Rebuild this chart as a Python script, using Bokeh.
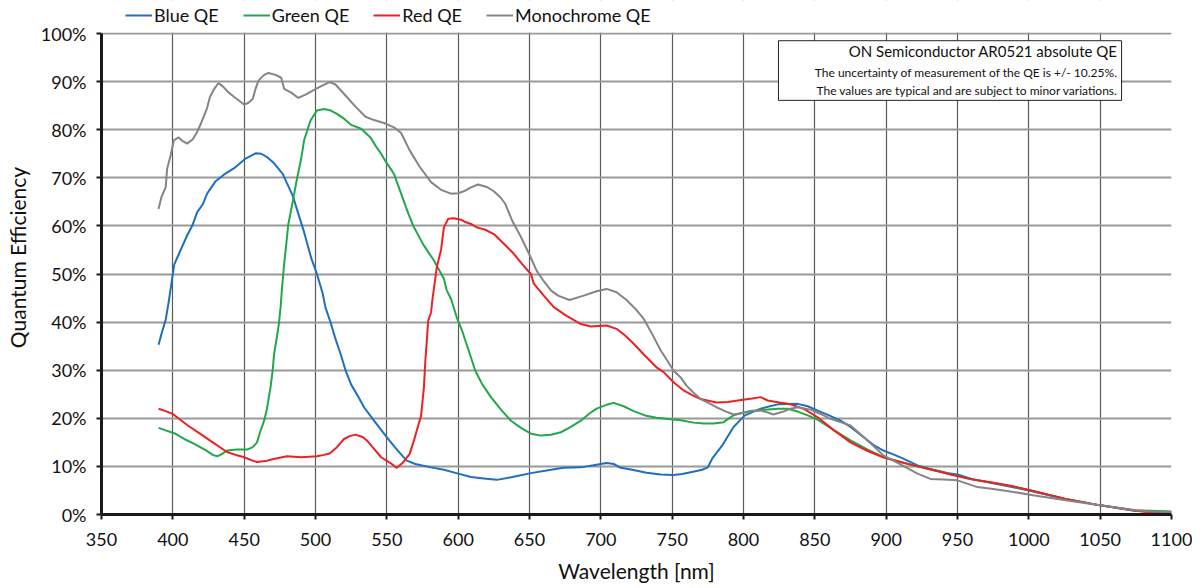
from bokeh.plotting import figure
from bokeh.models import (Legend, LegendItem, FixedTicker, PrintfTickFormatter,
                          BoxAnnotation, Label, Range1d)
from bokeh.embed import file_html
from bokeh.resources import INLINE

FONT = "Lato"

x_ticks = list(range(350, 1101, 50))
y_ticks = list(range(0, 101, 10))

blue_nm = [390, 392, 395, 397, 399, 401, 404, 407, 410, 414, 417, 421, 424, 430, 436, 443, 451, 458, 462, 466,
           471, 477, 484, 488, 492, 497, 501, 505, 507, 510.5, 514, 518, 521, 525, 530, 534, 541, 548, 555, 560,
           564, 570, 581, 590, 600, 609, 618, 627, 638, 651, 663, 674, 686, 696, 704, 709, 714, 722, 732, 742,
           751, 757, 763, 771, 775, 778, 785, 793, 801, 812, 824, 838, 845, 852, 860, 868, 875, 884, 891, 898,
           905, 912, 922, 930, 936, 945, 950, 960, 975, 1000, 1027, 1050, 1074, 1090, 1100]
blue_qe = [35.3, 37.5, 40.5, 44, 48, 52, 54, 56, 58, 60.3, 62.8, 64.5, 66.7, 69.3, 70.7, 72, 74, 75.1, 75, 74.3,
           73, 70.8, 66.3, 62.5, 58.7, 53.3, 50, 46, 43, 40, 36.5, 33, 30, 27, 24.5, 22.3, 19.5, 16.8, 14.2, 12.5,
           11.2, 10.5, 9.8, 9.3, 8.5, 7.8, 7.5, 7.2, 7.8, 8.6, 9.2, 9.7, 9.8, 10.3, 10.7, 10.5, 9.7, 9.3, 8.7, 8.3,
           8.2, 8.4, 8.8, 9.3, 9.8, 11.6, 14.3, 18.2, 20.6, 22, 22.9, 23, 22.5, 21.6, 20.6, 19.5, 18.2, 16.1, 14.5, 13.3,
           12.5, 11.6, 10.2, 9.5, 9.1, 8.5, 8.3, 7.4, 6.5, 5, 3.1, 1.9, 0.8, 0.6, 0.5]

green_nm = [390, 395, 401, 408, 415, 423, 428, 431, 434, 438, 445, 452, 456, 459, 461, 464, 466, 468.5, 470, 471,
            473, 474.3, 475.5, 476.6, 478, 481, 484, 487, 490, 492, 496.5, 501, 506, 510.5, 515, 520, 525, 532,
            538.5, 542, 546, 549, 552.6, 555, 560, 565, 569, 576, 583, 590, 592, 595, 599, 603, 607, 612, 617,
            623, 630, 637, 644, 651, 658, 665, 672, 679, 686, 692, 697, 704, 709, 716, 723, 731, 739, 749, 756,
            765, 772, 779, 786, 793, 800, 805, 815, 824, 831, 838, 845, 852, 863, 875, 887, 898, 910, 922, 935,
            945, 960, 975, 1000, 1025, 1050, 1075, 1100]
green_qe = [18, 17.5, 16.9, 15.7, 14.7, 13.4, 12.4, 12.1, 12.5, 13.3, 13.5, 13.5, 14, 15, 17, 19.5, 22, 26.5, 30, 33.4,
            37, 39.6, 43, 47.3, 52, 60.4, 65, 69.8, 74, 77.8, 81.9, 84, 84.3, 84, 83.3, 82.3, 81, 80.2,
            78.4, 76.7, 75, 73.5, 71.9, 70.8, 66.7, 62.6, 59.7, 55.9, 52.8, 49, 46.6, 44.8, 41, 38, 34.4, 29.9, 27,
            24.4, 21.8, 19.5, 18, 16.8, 16.4, 16.6, 17.1, 18.2, 19.5, 21, 22, 22.8, 23.2, 22.5, 21.5, 20.6, 20.1, 19.8, 19.6,
            19.1, 18.9, 18.9, 19.2, 20.6, 21.2, 21.5, 21.8, 22, 22, 21.4, 20.6, 19.7, 17.6, 15.4, 13.5, 11.9, 10.9, 10, 9.1,
            8.4, 7.3, 6.6, 5.1, 3.3, 1.9, 0.9, 0.6]

red_nm = [390, 395, 400, 410, 419, 428, 438, 445, 450, 455, 459, 465, 470, 480, 490, 501, 506, 510, 515, 520,
          524, 528, 533, 536, 540, 546, 552, 557, 561, 566, 569, 572, 574, 576, 577, 578, 579, 581, 582, 585,
          588, 590, 593, 597, 602, 605, 609, 613, 619, 625, 632, 639, 645, 651, 653, 660, 667, 676, 686, 693,
          704, 711, 717, 723, 731, 739, 744, 751, 758, 764, 770, 781, 789, 796, 806, 812, 817, 825, 833, 842,
          852, 863, 875, 887, 898, 910, 922, 935, 945, 960, 975, 990, 1000, 1025, 1050, 1075, 1085, 1100]
red_qe = [22, 21.5, 20.9, 18.6, 16.8, 15, 13, 12.3, 11.9, 11.3, 10.9, 11.1, 11.5, 12.1, 11.9, 12.1, 12.4, 12.7, 14, 15.7,
          16.3, 16.6, 16.1, 15.4, 14, 11.9, 10.8, 9.7, 10.7, 12.6, 15.4, 18.5, 20.5, 26.5, 32, 36, 40.3, 42, 44.8, 51.4,
          55, 59.7, 61.5, 61.6, 61.3, 60.8, 60.4, 59.7, 59.2, 58.3, 56.3, 54.2, 52, 50, 48, 45.5, 43.1, 41.3, 39.6, 39.1,
          39.3, 38.6, 37.2, 35.5, 33, 30.6, 29.6, 27.5, 25.8, 24.8, 24, 23.3, 23.4, 23.7, 24.1, 24.4, 23.7, 23.3, 22.9, 22,
          20.2, 17.6, 15, 13.2, 11.9, 10.9, 10, 9.1, 8.3, 7.3, 6.6, 5.8, 5.1, 3.3, 1.9, 0.8, 0.4, 0.4]

mono_nm = [390, 392, 395, 396, 398.4, 400.7, 404, 407, 410, 414, 417, 420, 422, 424, 426, 429, 432, 435, 439, 443,
           447, 450, 453, 456, 458, 460, 464, 467, 472, 476, 478, 483, 488, 493, 499, 505, 510, 514, 518, 522,
           528, 535, 541, 548, 555, 560, 566, 573, 581, 588, 595, 600, 604, 609, 614, 620, 625, 630, 633, 638,
           644, 650, 655, 660, 665, 670, 678, 688, 697, 704, 711, 718, 725, 730, 736, 742, 747, 751, 756, 760,
           765, 770, 776, 781, 787, 793, 799, 805, 812, 817, 821, 828, 833, 838, 847, 854, 861, 868, 875, 887,
           898, 910, 922, 931, 940, 950, 964, 975, 987, 1003, 1027, 1050, 1071, 1085, 1100]
mono_qe = [63.5, 66, 68, 71.9, 74.6, 77.8, 78.4, 77.6, 77.1, 78, 79.5, 81.5, 83, 84.5, 86.8, 88.5, 89.7, 89, 87.8, 86.8,
           85.9, 85.2, 85.6, 86.4, 88.5, 90.2, 91.4, 91.8, 91.4, 90.8, 88.5, 87.7, 86.6, 87.3, 88.3, 89.2, 89.9, 89.4, 88.1, 86.8,
           84.8, 82.7, 82, 81.4, 80.5, 79.3, 75.7, 72.3, 69.1, 67.5, 66.7, 66.8, 67.2, 68, 68.6, 68.1, 67.2, 65.8, 64.6, 61,
           57.7, 54, 50.7, 48.5, 46.6, 45.5, 44.6, 45.5, 46.4, 46.9, 46.2, 44.6, 42.5, 40.7, 37.5, 34.1, 31.8, 29.9, 28.5, 26.8,
           25.3, 24, 23.1, 22.3, 21.5, 20.8, 21.1, 21.4, 21.6, 21.2, 20.8, 21.4, 22, 22.3, 21.8, 20.9, 19.9, 19.2, 18.5, 15.4,
           12.3, 10.4, 8.5, 7.4, 7.3, 7.1, 5.7, 5.3, 4.8, 4, 2.9, 1.9, 1, 0.6, 0.5]

series_names = ["Blue QE", "Green QE", "Red QE", "Monochrome QE"]
series_colors = ["#1f6fbf", "#21a84a", "#ee2024", "#858585"]

note_title = "ON Semiconductor AR0521 absolute QE"
note_line1 = "The uncertainty of measurement of the QE is +/- 10.25%."
note_line2 = "The values are typical and are subject to minor variations."

# frame reaches the top of the figure; the strip above 100 % holds the legend
Y_TOP = 100 * 514 / 481

p = figure(width=1192, height=586, output_backend="svg", toolbar_location=None,
           x_range=Range1d(350, 1100), y_range=Range1d(0, Y_TOP),
           min_border_left=101, min_border_right=21, min_border_top=0, min_border_bottom=72)
p.background_fill_color = "white"
p.border_fill_color = "white"
p.outline_line_color = None

renderers = []
for xs, ys, c in zip([blue_nm, green_nm, red_nm, mono_nm], [blue_qe, green_qe, red_qe, mono_qe], series_colors):
    r = p.line(xs, ys, line_color=c, line_width=2)
    renderers.append(r)

# axes
p.xaxis.ticker = FixedTicker(ticks=x_ticks)
p.yaxis.ticker = FixedTicker(ticks=y_ticks)
p.yaxis.formatter = PrintfTickFormatter(format="%d%%")
p.yaxis.bounds = (0, 100)
for ax in (p.xaxis[0], p.yaxis[0]):
    ax.axis_line_color = "#1a1a1a"
    ax.axis_line_width = 3
    ax.major_tick_line_color = "#1a1a1a"
    ax.major_tick_line_width = 2
    ax.major_tick_out = 5
    ax.major_tick_in = 0
    ax.minor_tick_line_color = None
    ax.major_label_text_font = FONT
    ax.major_label_text_font_size = "18px"
    ax.major_label_text_color = "#111111"
    ax.axis_label_text_font = FONT
    ax.axis_label_text_font_size = "21px"
    ax.axis_label_text_font_style = "normal"
    ax.axis_label_text_color = "#111111"
p.xaxis.axis_label = "Wavelength [nm]"
p.yaxis.axis_label = "Quantum Efficiency"
p.xaxis.major_label_standoff = 13
p.xaxis.axis_label_standoff = 9
p.yaxis.major_label_standoff = 10
p.yaxis.axis_label_standoff = 8

p.xgrid.grid_line_color = "#5a5a5a"
p.xgrid.grid_line_width = 1.2
p.ygrid.grid_line_color = "#999999"
p.ygrid.grid_line_width = 2

# white strip above the 100 % line (hides grid above the plot area)
p.add_layout(BoxAnnotation(bottom=100.22, fill_color="white", fill_alpha=1.0, line_color=None))

# note box
box = BoxAnnotation(left=824.5, right=1065, top=98.5, bottom=86.1,
                    fill_color="white", fill_alpha=1.0, line_color="#222222", line_width=1, line_alpha=1.0)
p.add_layout(box)
p.add_layout(Label(x=1062.3, y=96.3, text=note_title, text_align="right", text_baseline="middle",
                   text_font=FONT, text_font_size="15px", text_color="#111111"))
p.add_layout(Label(x=1062.3, y=91.9, text=note_line1, text_align="right", text_baseline="middle",
                   text_font=FONT, text_font_size="12px", text_color="#111111"))
p.add_layout(Label(x=1062.3, y=88.1, text=note_line2, text_align="right", text_baseline="middle",
                   text_font=FONT, text_font_size="12px", text_color="#111111"))

legend = Legend(items=[LegendItem(label=n, renderers=[r]) for n, r in zip(series_names, renderers)],
                orientation="horizontal", location=(24, 488),
                label_text_font=FONT, label_text_font_size="18px", label_text_color="#111111",
                glyph_width=27, glyph_height=18, label_standoff=2, spacing=24,
                padding=0, margin=0, border_line_color=None, background_fill_alpha=0)
p.add_layout(legend)

open("out.html", "w").write(file_html(p, INLINE))
